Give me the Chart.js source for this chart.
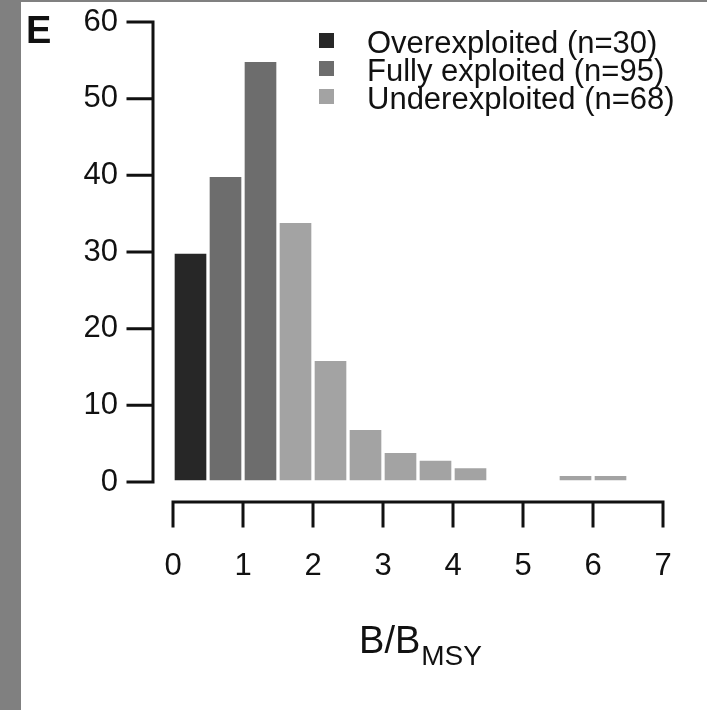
<!DOCTYPE html>
<html>
<head>
<meta charset="utf-8">
<script src="https://cdn.jsdelivr.net/npm/chart.js@4.4.0/dist/chart.umd.min.js"></script>
<style>
  html, body { margin: 0; padding: 0; background: #fff; }
  canvas { display: block; }
</style>
</head>
<body>
<canvas id="grafico" width="707" height="710"></canvas>
<script>
// Centros de cada clase de B/BMSY (ancho 0.5) y número de stocks por clase
const centrosSobre = [0.25];
const valoresSobre = [30];
const centrosPlena = [0.75, 1.25];
const valoresPlena = [40, 55];
const centrosSub = [1.75, 2.25, 2.75, 3.25, 3.75, 4.25, 5.75, 6.25];
const valoresSub = [34, 16, 7, 4, 3, 2, 1, 1];
const etiquetasSerie = ['Overexploited (n=30)', 'Fully exploited (n=95)', 'Underexploited (n=68)'];
const ticksX = [0, 1, 2, 3, 4, 5, 6, 7];
const ticksY = [0, 10, 20, 30, 40, 50, 60];

const colores = ['#272727', '#6d6d6d', '#a3a3a3'];
const fuente = "'Liberation Sans', Arial, Helvetica, sans-serif";
const colorTexto = '#111';

// Convierte centros y valores en puntos {x, y} para el eje lineal
function armarPuntos(centros, valores) {
    return centros.map((x, i) => ({ x: x, y: valores[i] }));
}

// Quita los márgenes que Chart.js agrega por las etiquetas
function sinMargenes(escala) {
    escala.paddingTop = 0;
    escala.paddingBottom = 0;
    escala.paddingLeft = 0;
    escala.paddingRight = 0;
}

// Fondo, ejes separados, leyenda y título del eje X
const ejesPlugin = {
    id: 'ejes',
    beforeDraw(chart) {
        const ctx = chart.ctx;
        ctx.save();
        ctx.fillStyle = '#fff';
        ctx.fillRect(0, 0, chart.width, chart.height);
        ctx.fillStyle = '#808080';
        ctx.fillRect(0, 0, 21, chart.height);
        ctx.fillRect(0, 0, chart.width, 2);
        ctx.restore();
    },
    afterDraw(chart) {
        const ctx = chart.ctx;
        const escX = chart.scales.x;
        const escY = chart.scales.y;
        const area = chart.chartArea;
        ctx.save();
        ctx.strokeStyle = colorTexto;
        ctx.lineWidth = 3;
        ctx.lineCap = 'square';

        // eje Y
        const ejeYx = area.left - 20;
        ctx.beginPath();
        ctx.moveTo(ejeYx, escY.getPixelForValue(ticksY[ticksY.length - 1]));
        ctx.lineTo(ejeYx, escY.getPixelForValue(ticksY[0]));
        ticksY.forEach(v => {
            const py = escY.getPixelForValue(v);
            ctx.moveTo(ejeYx - 25, py);
            ctx.lineTo(ejeYx, py);
        });
        ctx.stroke();

        // eje X
        const ejeXy = area.bottom + 20;
        ctx.beginPath();
        ctx.moveTo(escX.getPixelForValue(ticksX[0]), ejeXy);
        ctx.lineTo(escX.getPixelForValue(ticksX[ticksX.length - 1]), ejeXy);
        ticksX.forEach(v => {
            const px = escX.getPixelForValue(v);
            ctx.moveTo(px, ejeXy);
            ctx.lineTo(px, ejeXy + 24);
        });
        ctx.stroke();

        // leyenda
        ctx.textAlign = 'left';
        ctx.textBaseline = 'alphabetic';
        ctx.font = '31px ' + fuente;
        chart.data.datasets.forEach((ds, i) => {
            const fila = 40 + i * 28;
            ctx.fillStyle = ds.backgroundColor;
            ctx.fillRect(319, fila - 7, 15, 15);
            ctx.fillStyle = colorTexto;
            ctx.fillText(ds.label, 367, fila + 13);
        });

        // letra del panel
        ctx.font = 'bold 38px ' + fuente;
        ctx.fillText('E', 26, 43);

        // título del eje X con subíndice
        ctx.font = '38px ' + fuente;
        const anchoB = ctx.measureText('B/B').width;
        ctx.font = '28px ' + fuente;
        const anchoSub = ctx.measureText('MSY').width;
        const centro = (area.left + area.right) / 2 + 2;
        const inicio = centro - (anchoB + anchoSub) / 2;
        ctx.font = '38px ' + fuente;
        ctx.fillText('B/B', inicio, 653);
        ctx.font = '28px ' + fuente;
        ctx.fillText('MSY', inicio + anchoB + 1, 665);
        ctx.restore();
    }
};

const ctx = document.getElementById('grafico').getContext('2d');
new Chart(ctx, {
    type: 'bar',
    data: {
        datasets: [
            { label: etiquetasSerie[0], data: armarPuntos(centrosSobre, valoresSobre), backgroundColor: colores[0] },
            { label: etiquetasSerie[1], data: armarPuntos(centrosPlena, valoresPlena), backgroundColor: colores[1] },
            { label: etiquetasSerie[2], data: armarPuntos(centrosSub, valoresSub), backgroundColor: colores[2] }
        ].map(ds => Object.assign(ds, {
            grouped: false,
            barPercentage: 1,
            categoryPercentage: 1,
            borderWidth: 2,
            borderColor: '#ffffff',
            borderSkipped: false
        }))
    },
    options: {
        responsive: false,
        animation: false,
        devicePixelRatio: 1,
        layout: { padding: { left: 0, right: 44, top: 22, bottom: 0 } },
        plugins: {
            legend: { display: false },
            tooltip: { enabled: false },
            title: { display: false }
        },
        scales: {
            x: {
                type: 'linear',
                offset: false,
                min: ticksX[0],
                max: ticksX[ticksX.length - 1],
                grid: { display: false, drawTicks: false },
                border: { display: false },
                afterBuildTicks: (escala) => { escala.ticks = ticksX.map(v => ({ value: v })); },
                afterFit: (escala) => { escala.height = 228; sinMargenes(escala); },
                ticks: {
                    padding: 66,
                    color: colorTexto,
                    font: { family: fuente, size: 31 }
                }
            },
            y: {
                min: ticksY[0],
                max: ticksY[ticksY.length - 1],
                grid: { display: false, drawTicks: false },
                border: { display: false },
                afterBuildTicks: (escala) => { escala.ticks = ticksY.map(v => ({ value: v })); },
                afterFit: (escala) => { escala.width = 173; sinMargenes(escala); },
                ticks: {
                    padding: 55,
                    color: colorTexto,
                    font: { family: fuente, size: 31 }
                }
            }
        }
    },
    plugins: [ejesPlugin]
});
</script>
</body>
</html>
